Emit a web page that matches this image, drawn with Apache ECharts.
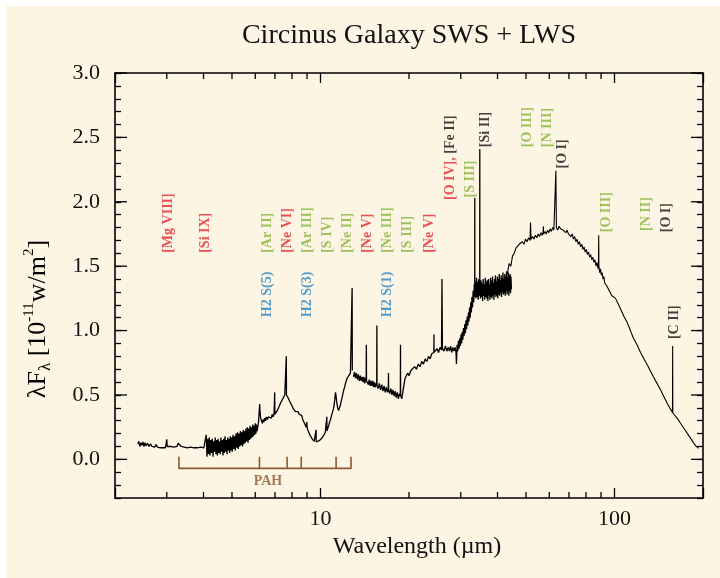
<!DOCTYPE html>
<html>
<head>
<meta charset="utf-8">
<title>Circinus Galaxy SWS + LWS</title>
<script src="https://cdn.jsdelivr.net/npm/echarts@6/dist/echarts.min.js"></script>
<style>
html, body { margin: 0; padding: 0; background: #fff; }
#chart { width: 720px; height: 578px; }
</style>
</head>
<body>
<div id="chart"></div>
<script>
// ISO spectrum, [wavelength (um), lambda F_lambda (1e-11 W/m2)]
var swsShort = [
  [2.39,0.12],[2.41,0.14],[2.43,0.10],[2.45,0.13],[2.47,0.11],[2.49,0.135],[2.51,0.10],[2.53,0.13],[2.55,0.105],[2.58,0.125],
  [2.61,0.10],[2.64,0.12],[2.67,0.10],[2.70,0.115],[2.73,0.095],[2.76,0.115],[2.79,0.095],[2.82,0.11],[2.85,0.09],[2.88,0.105],
  [2.91,0.09],[2.94,0.10],[2.97,0.09],[2.99,0.10],[3.00,0.155],[3.01,0.10],[3.05,0.09],[3.09,0.10],[3.13,0.085],[3.17,0.095],
  [3.21,0.09],[3.25,0.10],[3.28,0.125],[3.30,0.13],[3.32,0.11],[3.36,0.10],[3.40,0.105],[3.44,0.095],[3.48,0.105],[3.52,0.09],
  [3.56,0.10],[3.61,0.095],[3.66,0.105],[3.71,0.09],[3.76,0.10],[3.81,0.09],[3.86,0.10],[3.91,0.095],[3.96,0.10],[4.01,0.09],
  [4.060,0.10],[4.085,0.19],[4.110,0.02],[4.135,0.16],[4.160,0.04],[4.185,0.17],[4.210,0.03],[4.235,0.15],[4.260,0.05],[4.285,0.16],
  [4.310,0.02],[4.335,0.14],[4.360,0.06],[4.385,0.17],[4.410,0.04],[4.435,0.15],[4.460,0.03],[4.485,0.16],[4.510,0.05],[4.535,0.14],
  [4.560,0.04],[4.585,0.17],[4.610,0.06],[4.635,0.15],[4.660,0.03],[4.685,0.16],[4.710,0.05],[4.735,0.18],[4.760,0.06],[4.785,0.15],
  [4.810,0.04],[4.835,0.17],[4.860,0.07],[4.885,0.16],[4.910,0.05],[4.935,0.18],[4.960,0.07],[4.985,0.17],[5.010,0.06],[5.040,0.19],
  [5.070,0.08],[5.100,0.18],[5.130,0.07],[5.160,0.20],[5.190,0.09],[5.220,0.21],[5.250,0.08],[5.280,0.20],[5.310,0.10],[5.340,0.22],
  [5.370,0.11],[5.400,0.21],[5.430,0.10],[5.460,0.23],[5.490,0.12],[5.520,0.22],[5.550,0.13],[5.580,0.24],[5.610,0.14],[5.640,0.25],
  [5.670,0.13],[5.700,0.24],[5.730,0.15],[5.760,0.26],[5.790,0.16],[5.820,0.25],[5.850,0.17],[5.880,0.27],[5.910,0.18],[5.940,0.26],
  [5.970,0.19],[6.000,0.28],[6.030,0.20],[6.060,0.27],[6.090,0.22],[6.12,0.25],[6.16,0.30],[6.19,0.38],[6.21,0.43],
  [6.23,0.37],[6.26,0.32],[6.30,0.30],[6.34,0.28],[6.38,0.31],[6.42,0.29],[6.46,0.32],[6.50,0.30],[6.55,0.33],[6.60,0.31],
  [6.65,0.33],[6.70,0.32],[6.75,0.34],[6.80,0.32],[6.85,0.35],[6.90,0.33],[6.95,0.35],[6.975,0.34],[6.985,0.52],[6.995,0.35],
  [7.04,0.35],[7.09,0.37],[7.14,0.37],[7.20,0.40],[7.26,0.41],[7.32,0.44],[7.38,0.44],[7.44,0.47],[7.50,0.47],[7.56,0.50],
  [7.62,0.49],[7.645,0.51],[7.652,0.80],[7.66,0.50],[7.70,0.51],[7.75,0.48],[7.80,0.48],[7.86,0.45],[7.92,0.45],[7.98,0.42],
  [8.04,0.42],[8.10,0.39],[8.16,0.39],[8.22,0.37],[8.28,0.38],[8.34,0.36],[8.40,0.37],[8.46,0.35],[8.52,0.36],[8.58,0.34],
  [8.64,0.34],[8.70,0.31],[8.76,0.31],[8.82,0.28],[8.88,0.28],[8.94,0.25],[8.98,0.25],[8.99,0.29],[9.00,0.25],[9.05,0.23],
  [9.12,0.22],[9.20,0.19],[9.28,0.18],[9.36,0.16],[9.44,0.155],[9.52,0.14],[9.60,0.14],[9.65,0.13],[9.66,0.23],[9.67,0.135],
  [9.74,0.14],[9.82,0.135],[9.90,0.145],[9.98,0.15],[10.06,0.16],[10.14,0.165],[10.22,0.18],[10.30,0.19],[10.38,0.21],[10.46,0.215],
  [10.50,0.22],[10.51,0.33],[10.52,0.22],[10.58,0.24],[10.66,0.26],[10.74,0.29],[10.82,0.31],[10.90,0.34],[10.98,0.35],[11.06,0.39],
  [11.14,0.43],[11.20,0.48],[11.25,0.52],[11.30,0.49],[11.36,0.44],[11.44,0.40],[11.52,0.38],[11.60,0.39],[11.68,0.42],[11.76,0.45],
  [11.84,0.48],[11.92,0.51],[12.00,0.54],[12.08,0.56],[12.16,0.59],[12.24,0.61],[12.32,0.63],[12.40,0.63],[12.48,0.65],[12.56,0.65],
  [12.64,0.67],[12.72,0.66],[12.79,0.68],[12.81,1.33],[12.83,0.69]
];
var swsLong = [
  [12.95,0.64],[13.05,0.68],[13.15,0.63],[13.25,0.67],[13.35,0.62],[13.45,0.66],[13.55,0.61],[13.65,0.65],[13.75,0.61],[13.85,0.64],
  [13.95,0.60],[14.05,0.64],[14.15,0.59],[14.25,0.63],[14.30,0.61],[14.32,0.89],[14.34,0.61],[14.45,0.62],[14.55,0.58],[14.65,0.62],
  [14.75,0.57],[14.85,0.61],[14.95,0.57],[15.05,0.61],[15.15,0.56],[15.25,0.60],[15.35,0.56],[15.45,0.59],[15.53,0.57],[15.55,1.04],
  [15.57,0.57],[15.70,0.55],[15.85,0.59],[16.00,0.54],[16.15,0.58],[16.30,0.53],[16.45,0.57],[16.60,0.52],[16.75,0.56],[16.90,0.52],
  [17.01,0.55],[17.03,0.67],[17.05,0.54],[17.20,0.51],[17.35,0.55],[17.50,0.50],[17.65,0.54],[17.80,0.49],[17.95,0.53],[18.10,0.48],
  [18.25,0.52],[18.40,0.47],[18.55,0.51],[18.69,0.49],[18.71,0.89],[18.73,0.50],[18.90,0.47],[19.05,0.52],[19.20,0.57],[19.40,0.63],
  [19.60,0.62],[19.80,0.67],[20.00,0.65],[20.30,0.69],[20.60,0.68],[20.90,0.72],[21.20,0.70],[21.50,0.74],[21.80,0.72],[22.10,0.76],
  [22.40,0.74],[22.70,0.78],[23.00,0.76],[23.30,0.80],[23.60,0.78],[23.90,0.82],[24.20,0.81],[24.30,0.83],[24.32,0.97],[24.34,0.83],
  [24.60,0.82],[24.90,0.86],[25.20,0.83],[25.50,0.87],[25.80,0.85],[25.89,1.40],[25.98,0.86],[26.30,0.84],[26.60,0.88],[26.90,0.84],
  [27.20,0.87],[27.45,0.84],[27.70,0.88],[27.95,0.83],[28.20,0.87],[28.45,0.84],[28.70,0.87],[28.90,0.83],[29.00,0.74],[29.15,0.89],
  [29.30,0.84],[29.45,0.92],[29.60,0.86],[29.75,0.94],[29.90,0.88],[30.05,0.97],[30.20,0.90],[30.35,0.99],[30.50,0.93],[30.65,1.02],
  [30.80,0.96],[30.95,1.05],[31.10,0.98],[31.25,1.08],[31.40,1.01],[31.55,1.11],[31.70,1.04],[31.85,1.14],[32.00,1.07],[32.15,1.18],
  [32.30,1.10],[32.45,1.22],[32.60,1.14],[32.75,1.26],[32.90,1.18],[33.05,1.31],[33.20,1.22],[33.35,1.36],[33.46,1.26],[33.48,2.03],
  [33.50,1.28],[33.65,1.38],[33.80,1.25],[33.95,1.41],[34.10,1.26],[34.25,1.38],[34.40,1.24],[34.55,1.40],[34.70,1.27],[34.80,1.30],
  [34.82,2.41],[34.84,1.33],[35.00,1.25],[35.15,1.39],[35.30,1.26],[35.45,1.37],[35.60,1.23],[35.75,1.40],[35.90,1.27],[36.05,1.36],
  [36.20,1.24],[36.35,1.41],[36.50,1.26],[36.65,1.38],[36.80,1.25],[36.95,1.39],[37.10,1.23],[37.25,1.40],[37.40,1.27],[37.55,1.36],
  [37.70,1.24],[37.85,1.41],[38.00,1.26],[38.15,1.39],[38.30,1.25],[38.45,1.42],[38.60,1.27],[38.75,1.37],[38.90,1.24],[39.05,1.40],
  [39.20,1.28],[39.35,1.43],[39.50,1.26],[39.65,1.38],[39.80,1.27],[39.95,1.42],[40.10,1.25],[40.25,1.40],[40.40,1.28],[40.55,1.44],
  [40.70,1.27],[40.85,1.39],[41.00,1.29],[41.15,1.43],[41.30,1.26],[41.45,1.41],[41.60,1.30],[41.75,1.45],[41.90,1.28],[42.05,1.40],
  [42.20,1.29],[42.35,1.44],[42.50,1.27],[42.65,1.42],[42.80,1.31],[42.95,1.46],[43.10,1.28],[43.25,1.41],[43.40,1.30],[43.55,1.45],
  [43.70,1.27],[43.85,1.43],[44.00,1.31],[44.15,1.44],[44.30,1.29],[44.45,1.42],[44.60,1.32]
];
var lws = [
  [43.2,1.44],[43.8,1.52],[44.4,1.50],[45.0,1.58],[45.6,1.60],[46.2,1.64],[46.8,1.63],[47.4,1.67],[48.0,1.66],[48.6,1.69],
  [49.2,1.67],[49.8,1.71],[50.4,1.69],[51.0,1.72],[51.6,1.70],[51.8,1.84],[52.0,1.71],[52.6,1.73],[53.2,1.71],[53.8,1.74],
  [54.4,1.72],[55.0,1.75],[55.6,1.73],[56.2,1.76],[56.8,1.74],[57.2,1.77],[57.3,1.81],[57.4,1.75],[58.0,1.77],[58.6,1.75],
  [59.2,1.78],[59.8,1.76],[60.4,1.79],[61.0,1.77],[61.6,1.80],[62.2,1.78],[62.9,1.79],[63.18,2.24],[63.45,1.80],[64.1,1.78],
  [64.8,1.81],[65.5,1.79],[66.2,1.80],[66.9,1.78],[67.6,1.79],[68.3,1.76],[69.0,1.78],[69.7,1.75],[70.4,1.76],[71.1,1.73],
  [71.8,1.75],[72.5,1.71],[73.2,1.73],[73.9,1.69],[74.6,1.71],[75.3,1.67],[76.0,1.69],[76.7,1.65],[77.4,1.67],[78.1,1.63],
  [78.8,1.65],[79.5,1.61],[80.2,1.63],[80.9,1.59],[81.6,1.61],[82.3,1.57],[83.0,1.59],[83.7,1.55],[84.4,1.57],[85.1,1.53],
  [85.8,1.55],[86.5,1.50],[87.2,1.53],[87.9,1.48],[88.2,1.51],[88.36,1.74],[88.5,1.50],[89.0,1.45],[89.6,1.48],[90.2,1.43],
  [90.8,1.45],[91.4,1.40],[92.0,1.42],[92.6,1.37],[93.3,1.38],[94.0,1.35],[95.0,1.34],[96.0,1.31],[97.0,1.30],[98.0,1.27],
  [99.0,1.26],[100.8,1.25],[102.8,1.21],[104.8,1.17],[107.7,1.11],[110.6,1.06],[113.3,1.00],[116.0,0.94],[119.3,0.89],[122.6,0.83],
  [126.0,0.78],[129.5,0.73],[132.6,0.685],[135.7,0.64],[139.5,0.59],[143.4,0.54],[147.4,0.485],[151.5,0.43],[155.1,0.39],[157.5,0.365],
  [157.7,0.88],[157.9,0.36],[163.3,0.32],[167.7,0.28],[172.4,0.24],[177.1,0.20],[181.4,0.165],[185.5,0.13],[189.3,0.105],[193.1,0.085]
];

// PAH feature positions (um) under the spectrum
var pahFeatures = [3.3, 6.2, 7.7, 8.6, 11.3, 12.7];

// ion labels and where they sit (um, flux at label foot)
var lineLabels = [
  ['[Mg VIII]', 'hi'], ['[Si IX]', 'hi'], ['[Ar II]', 'mid'], ['[Ne VI]', 'hi'], ['[Ar III]', 'mid'],
  ['[S IV]', 'mid'], ['[Ne II]', 'mid'], ['[Ne V]', 'hi'], ['[Ne III]', 'mid'], ['[S III]', 'mid'], ['[Ne V]', 'hi'],
  ['H2 S(5)', 'h2'], ['H2 S(3)', 'h2'], ['H2 S(1)', 'h2'],
  ['[O IV],| [Fe II]', 'hi|low'], ['[S III]', 'mid'], ['[Si II]', 'low'], ['[O III]', 'mid'], ['[N III]', 'mid'],
  ['[O I]', 'low'], ['[O III]', 'mid'], ['[N II]', 'mid'], ['[O I]', 'low'], ['[C II]', 'low']
];
var labelAnchors = [
  [3.04, 1.6], [4.06, 1.6], [6.60, 1.6], [7.72, 1.6], [9.03, 1.6],
  [10.56, 1.6], [12.35, 1.6], [14.45, 1.6], [16.9, 1.6], [19.77, 1.6], [23.48, 1.6],
  [6.60, 1.10], [9.03, 1.10], [16.9, 1.10],
  [27.7, 2.01], [32.6, 2.03], [36.4, 2.42], [50.6, 2.42], [59.2, 2.42],
  [66.5, 2.255], [93.9, 1.76], [128.4, 1.77], [150.3, 1.76], [160, 0.93]
];
var pahLabelAnchor = [6.65, -0.175];

// axis ticks
var xMinorTicks = [3, 4, 5, 6, 7, 8, 9, 20, 30, 40, 50, 60, 70, 80, 90];
var yMajorTicks = [0, 0.5, 1.0, 1.5, 2.0, 2.5, 3.0];

var serif = 'Liberation Serif';
var colors = { hi: '#e3262f', mid: '#86b33b', h2: '#2a86c8', low: '#111111', pah: '#8b5a30' };

var chart = echarts.init(document.getElementById('chart'));

var richLabels = {};
Object.keys(colors).forEach(function (k) {
  richLabels[k] = { color: colors[k], fontFamily: serif, fontWeight: 'bold', fontSize: 14 };
});

// bracket path under the PAH bands
var pahBase = -0.07, pahTop = 0.02;
var pahPath = [];
pahFeatures.forEach(function (w, i) {
  pahPath.push([w, pahTop], [w, pahBase]);
  if (i < pahFeatures.length - 1) pahPath.push([pahFeatures[i + 1], pahBase]);
});

var tickStyle = { stroke: '#000', lineWidth: 1.3 };

var xAxisBase = {
  type: 'log', logBase: 10, min: 2, max: 200,
  axisLine: { onZero: false, lineStyle: { color: '#000', width: 1.6 } },
  axisTick: { inside: true, length: 10, lineStyle: { color: '#000', width: 1.3 } },
  splitLine: { show: false }
};
var yAxisBase = {
  type: 'value', min: -0.3, max: 3.0, interval: 0.1,
  axisLine: { show: true, onZero: false, lineStyle: { color: '#000', width: 1.6 } },
  axisTick: { inside: true, length: 6, lineStyle: { color: '#000', width: 1.3 } },
  splitLine: { show: false }
};

var option = {
  backgroundColor: '#fff',
  animation: false,
  title: {
    text: 'Circinus Galaxy SWS + LWS',
    left: 404, top: 17, textAlign: 'center',
    textStyle: { fontFamily: serif, fontWeight: 'normal', fontSize: 28, color: '#111' }
  },
  graphic: [
    { type: 'rect', z: -100, silent: true, shape: { x: 6, y: 6, width: 714, height: 572 }, style: { fill: '#fcf5e3' } },
    {
      type: 'text', x: 38, y: 319, rotation: Math.PI / 2,
      style: {
        text: '{m|λF}{s|λ}{m| [10}{p|-11}{m|w/m}{p|2}{m|]}',
        align: 'center', verticalAlign: 'middle',
        rich: {
          m: { fontFamily: serif, fontSize: 26, color: '#111', lineHeight: 32 },
          s: { fontFamily: serif, fontSize: 17, color: '#111', lineHeight: 16, verticalAlign: 'bottom' },
          p: { fontFamily: serif, fontSize: 15, color: '#111', lineHeight: 15, verticalAlign: 'top' }
        }
      }
    }
  ],
  grid: { left: 115, right: 17, top: 73, bottom: 80 },
  xAxis: [
    Object.assign({}, xAxisBase, {
      position: 'bottom',
      name: 'Wavelength (µm)', nameLocation: 'middle', nameGap: 36,
      nameTextStyle: { fontFamily: serif, fontSize: 24, color: '#111', padding: [0, 0, 0, 16] },
      axisLabel: {
        margin: 10, fontFamily: serif, fontSize: 22, color: '#111',
        formatter: function (v) {
          var r = Math.round(v);
          return (r === 10 || r === 100) ? String(r) : '';
        }
      }
    }),
    Object.assign({}, xAxisBase, { position: 'top', axisLabel: { show: false } })
  ],
  yAxis: [
    Object.assign({}, yAxisBase, {
      position: 'left',
      axisLabel: {
        margin: 15, fontFamily: serif, fontSize: 22, color: '#111',
        formatter: function (v) {
          return (v > -1e-9 && Math.abs(v * 2 - Math.round(v * 2)) < 1e-6) ? v.toFixed(1) : '';
        }
      }
    }),
    Object.assign({}, yAxisBase, { position: 'right', axisLabel: { show: false } })
  ],
  series: [
    {
      name: 'SWS', type: 'line', data: swsShort, symbol: 'none', z: 3,
      lineStyle: { color: '#000', width: 1.3 }
    },
    {
      name: 'SWS long', type: 'line', data: swsLong, symbol: 'none', z: 3,
      lineStyle: { color: '#000', width: 1.3 }
    },
    {
      name: 'LWS', type: 'line', data: lws, symbol: 'none', z: 3,
      lineStyle: { color: '#000', width: 1.1 }
    },
    {
      name: 'PAH', type: 'line', data: pahPath, symbol: 'none', z: 3,
      lineStyle: { color: colors.pah, width: 1.6 }
    },
    {
      type: 'scatter', data: [pahLabelAnchor], symbolSize: 1, silent: true,
      itemStyle: { color: 'rgba(0,0,0,0)' },
      label: {
        show: true, position: [0, 0], align: 'center', verticalAlign: 'middle',
        formatter: 'PAH', color: colors.pah, fontFamily: serif, fontWeight: 'bold', fontSize: 14
      }
    },
    {
      type: 'scatter', data: labelAnchors, symbolSize: 1, silent: true, z: 4,
      itemStyle: { color: 'rgba(0,0,0,0)' },
      label: {
        show: true, rotate: 90, position: [0, 0], align: 'left', verticalAlign: 'middle',
        fontFamily: serif, fontWeight: 'bold', fontSize: 14, rich: richLabels,
        formatter: function (p) {
          var l = lineLabels[p.dataIndex];
          var texts = l[0].split('|'), cls = l[1].split('|');
          return texts.map(function (t, i) { return '{' + cls[i] + '|' + t + '}'; }).join('');
        }
      }
    },
    {
      // minor ticks of the log axes, bottom and top
      type: 'custom', silent: true, clip: false, z: 5,
      data: xMinorTicks.map(function (v) { return [v, 0]; }),
      renderItem: function (params, api) {
        var cs = params.coordSys;
        var x = api.coord([api.value(0), 0])[0];
        var b = cs.y + cs.height;
        return {
          type: 'group', children: [
            { type: 'line', shape: { x1: x, y1: b, x2: x, y2: b - 6 }, style: tickStyle },
            { type: 'line', shape: { x1: x, y1: cs.y, x2: x, y2: cs.y + 6 }, style: tickStyle }
          ]
        };
      }
    },
    {
      // long ticks at every 0.5 on both vertical axes
      type: 'custom', silent: true, clip: false, z: 5,
      data: yMajorTicks.map(function (v) { return [10, v]; }),
      renderItem: function (params, api) {
        var cs = params.coordSys;
        var y = api.coord([10, api.value(1)])[1];
        var r = cs.x + cs.width;
        return {
          type: 'group', children: [
            { type: 'line', shape: { x1: cs.x, y1: y, x2: cs.x + 12, y2: y }, style: tickStyle },
            { type: 'line', shape: { x1: r, y1: y, x2: r - 12, y2: y }, style: tickStyle }
          ]
        };
      }
    }
  ]
};

chart.setOption(option);
</script>
</body>
</html>
